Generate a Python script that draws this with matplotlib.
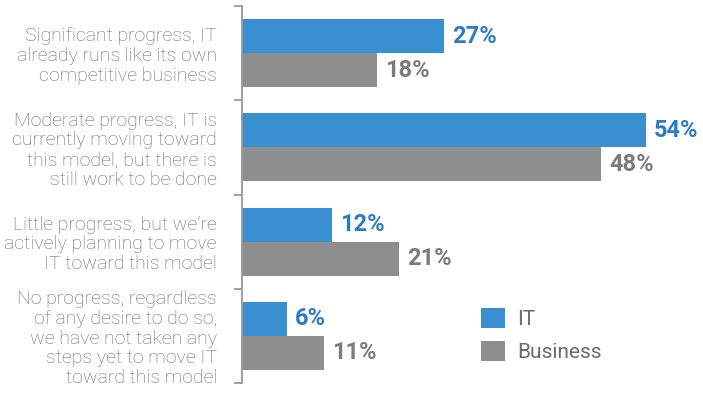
import numpy as np
import matplotlib.pyplot as plt

categories = [
    "Significant progress, IT\nalready runs like its own\ncompetitive business",
    "Moderate progress, IT is\ncurrently moving toward\nthis model, but there is\nstill work to be done",
    "Little progress, but we\u2019re\nactively planning to move\nIT toward this model",
    "No progress, regardless\nof any desire to do so,\nwe have not taken any\nsteps yet to move IT\ntoward this model",
]
it_values = [27, 54, 12, 6]
business_values = [18, 48, 21, 11]
series_names = ["IT", "Business"]

blue = "#3a8fd0"
blue_txt = "#2b7cc6"
gray = "#8e8e8e"
gray_txt = "#7b7b7b"
label_col = "#6a6a6a"

plt.rcParams['font.family'] = ['Roboto', 'DejaVu Sans']

fig = plt.figure(figsize=(7.03, 4.01), dpi=100)
ax = fig.add_axes([242 / 703, 1 - 383 / 401, 453 / 703, 377 / 401])

y = np.arange(len(categories))
h = 0.36
b1 = ax.barh(y - h / 2, it_values, height=h, color=blue, label=series_names[0])
b2 = ax.barh(y + h / 2, business_values, height=h, color=gray, label=series_names[1])

for rect, v in zip(b1, it_values):
    ax.annotate(f"{v}%", (rect.get_width(), rect.get_y() + rect.get_height() / 2),
                xytext=(6, 0), textcoords="offset points", va="center", ha="left",
                fontsize=17, fontweight="bold", color=blue_txt)
for rect, v in zip(b2, business_values):
    ax.annotate(f"{v}%", (rect.get_width(), rect.get_y() + rect.get_height() / 2),
                xytext=(6, 0), textcoords="offset points", va="center", ha="left",
                fontsize=17, fontweight="bold", color=gray_txt)

ax.set_xlim(0, 60.6)
ax.set_ylim(len(categories) - 0.5, -0.5)

# category labels centred on groups, ticks on the group boundaries
ax.set_yticks(y)
ax.set_yticklabels(categories, fontsize=14, color=label_col, fontweight="light",
                   linespacing=1.12)
ax.tick_params(axis="y", which="major", length=0, pad=18)
ax.set_yticks(np.arange(len(categories) + 1) - 0.5, minor=True)
ax.tick_params(axis="y", which="minor", length=6, width=1.3, color="#999999")
ax.set_xticks([])

for s in ["top", "right", "bottom"]:
    ax.spines[s].set_visible(False)
ax.spines["left"].set_color("#999999")
ax.spines["left"].set_linewidth(1.3)

fig.legend(handles=[b1, b2], labels=series_names, loc="upper left",
           bbox_to_anchor=(462 / 703, 1 - 289 / 401), frameon=False,
           fontsize=15, handlelength=1.15, handleheight=1.15,
           labelspacing=0.55, handletextpad=0.6, labelcolor=label_col)

fig.savefig("out.png", dpi=100)
